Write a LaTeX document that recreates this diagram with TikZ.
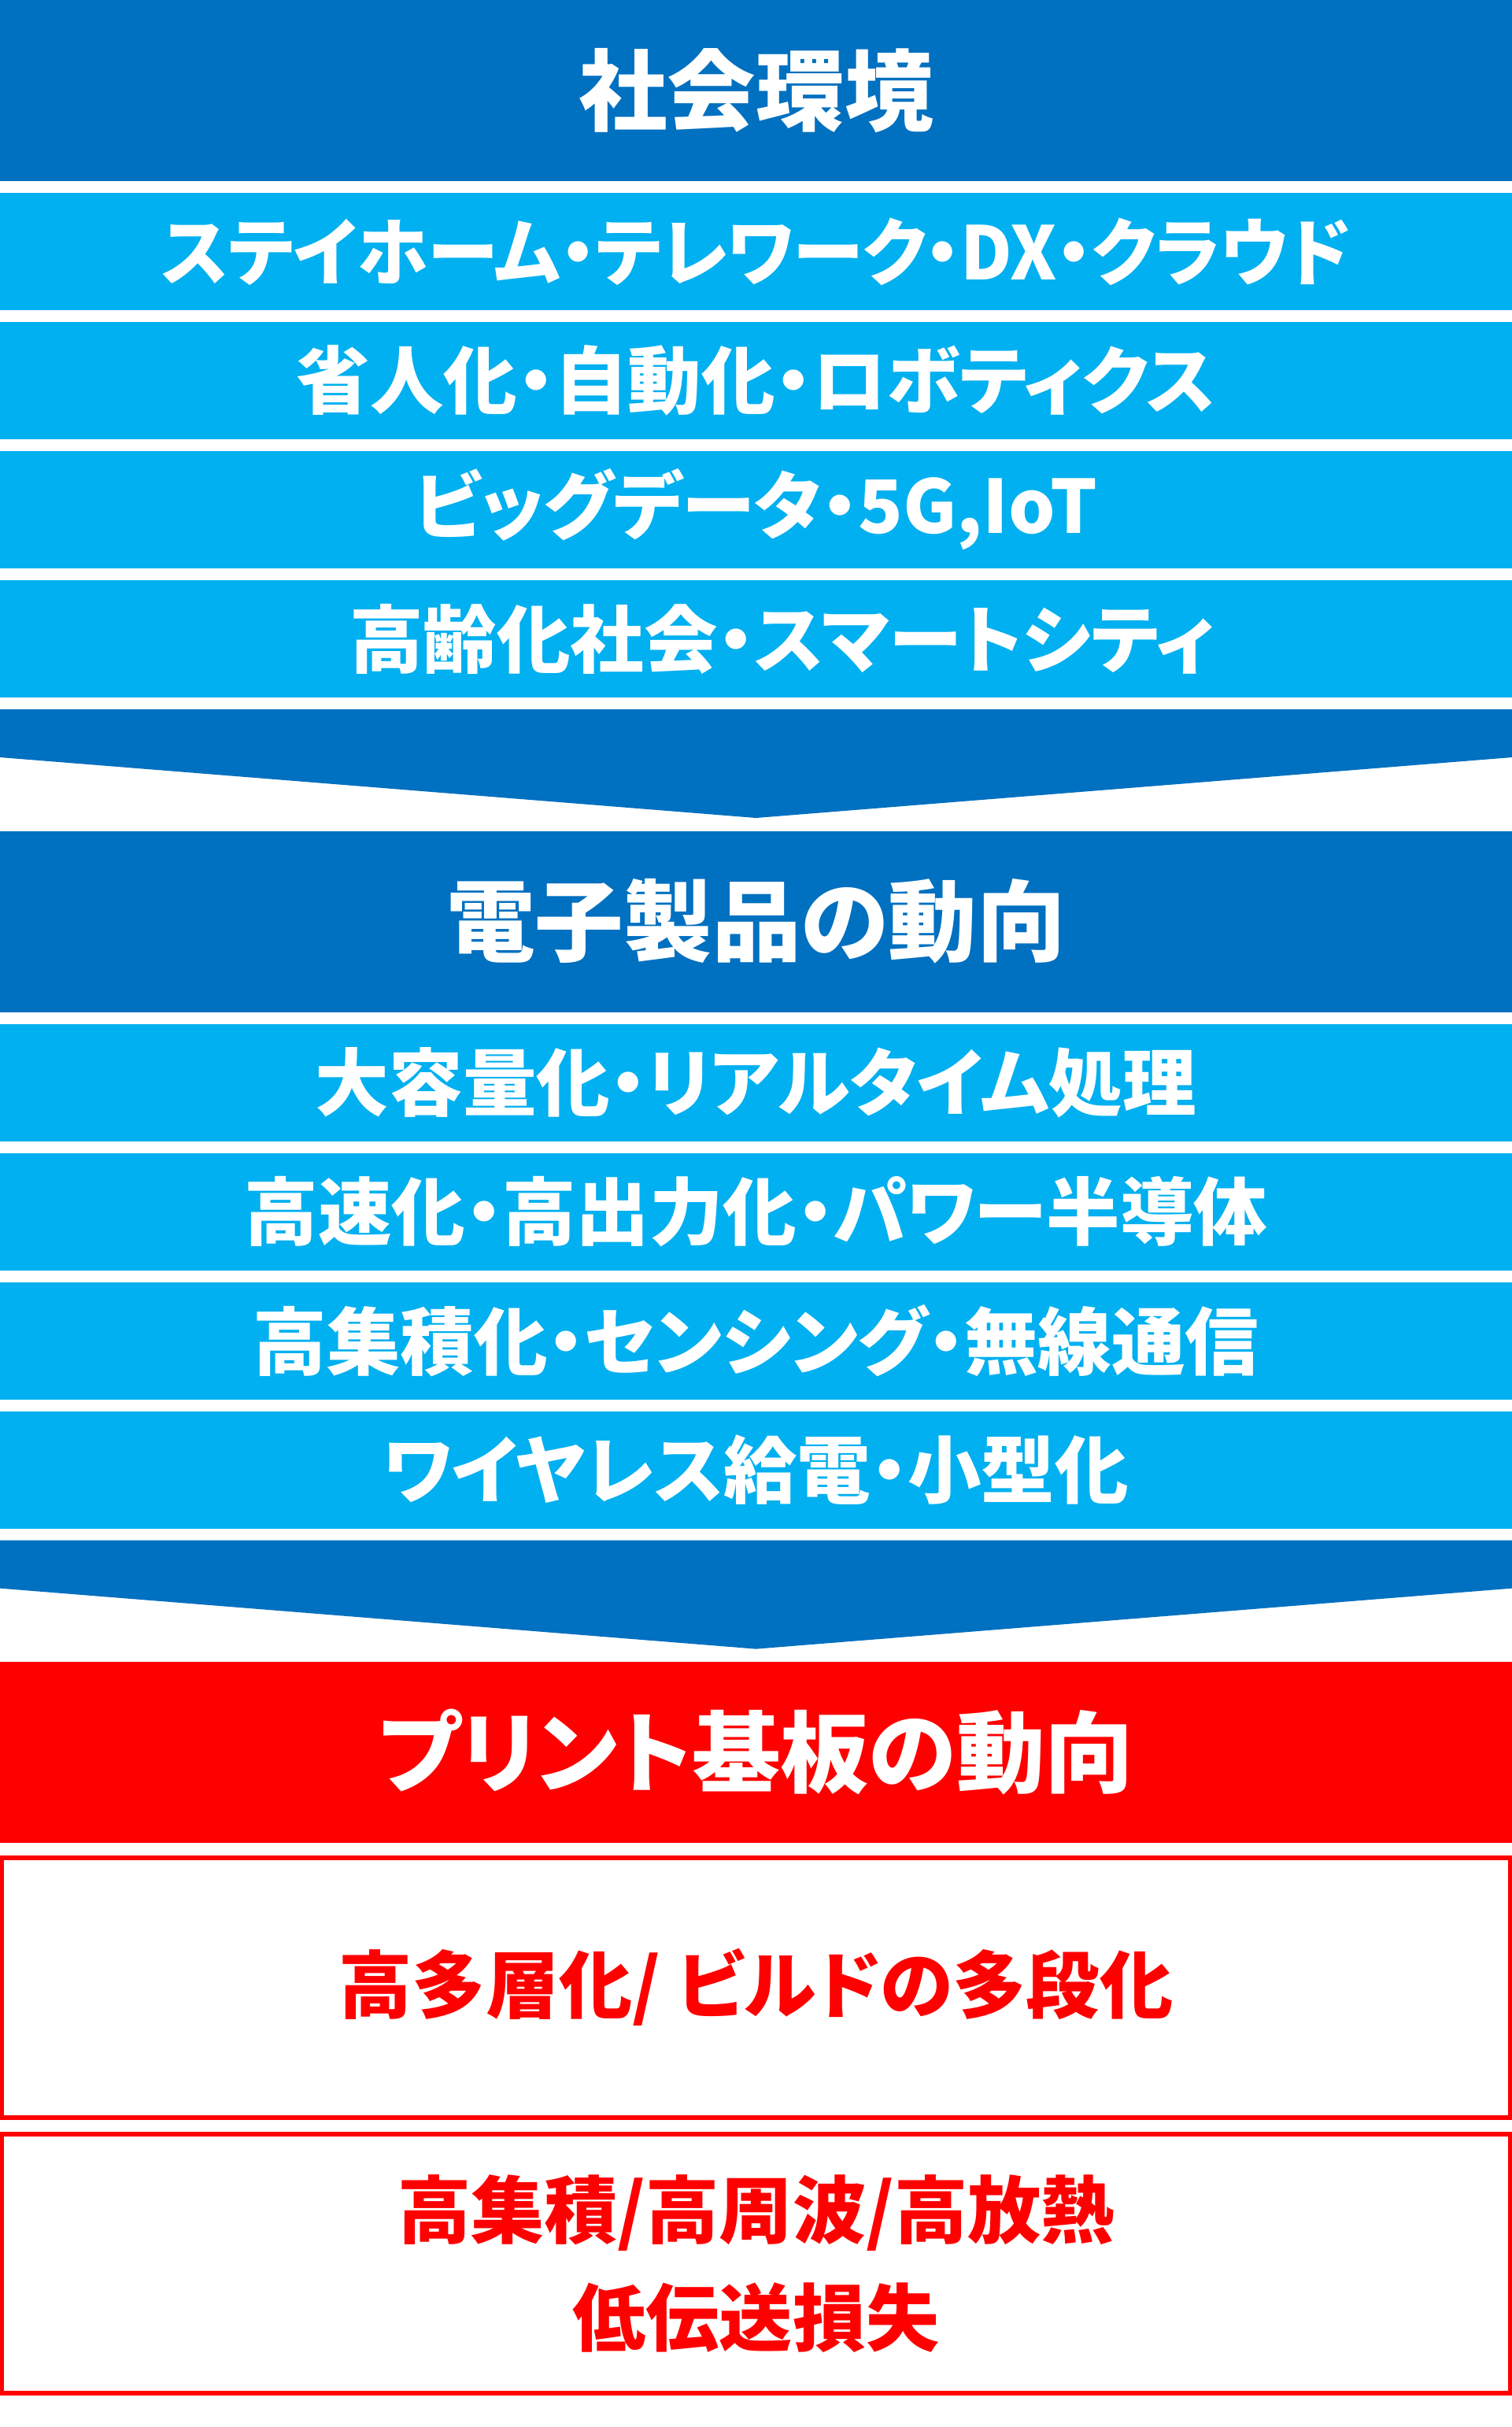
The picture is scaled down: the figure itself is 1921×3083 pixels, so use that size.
\documentclass[tikz,border=0pt]{standalone}
\usepackage{fontspec}
\newfontfamily\jpfont[RawFeature=+palt]{Noto Sans CJK JP}
\definecolor{deepblue}{HTML}{0070C0}
\definecolor{skyblue}{HTML}{00B0F0}
\definecolor{pcbred}{HTML}{FF0000}
\tikzset{every node/.style={inner sep=0pt, font=\jpfont\bfseries},
  headbar/.style={fill=deepblue, text=white, minimum width=19.21cm, minimum height=2.30cm,
    font=\jpfont\bfseries\fontsize{32}{38}\selectfont},
  itembar/.style={fill=skyblue, text=white, minimum width=19.21cm, minimum height=1.49cm,
    font=\jpfont\bfseries\fontsize{26.6}{32}\selectfont},
  trendbox/.style={draw=pcbred, line width=0.6mm, text=pcbred, align=center,
    minimum width=19.15cm, minimum height=3.30cm,
    font=\jpfont\bfseries\fontsize{26.5}{39}\selectfont}}

\begin{document}
\begin{tikzpicture}[x=0.01cm, y=-0.01cm]
   \useasboundingbox (0,0) rectangle (1921,3083);
   % social environment
   \begin{scope}
    \node[headbar] (envhead) at (960.5,115) {社会環境};
    \foreach \txt [count=\i] in {{\scalebox{0.965}[1]{ステイホーム・テレワーク・DX・クラウド}},
      省人化・自動化・ロボティクス, {ビッグデータ・5G,IoT\hspace{0.2em}}, {\hspace{0.7em}高齢化社会・スマートシティ}}
      \node[itembar] (env\i) at (960.5,{319.5+164*(\i-1)}) {\txt};
    \fill[deepblue] (0,901) -- (1921,901) -- (1921,962) -- (960.5,1039) -- (0,962) -- cycle;
   \end{scope}
   % electronic products
   \begin{scope}[yshift=-10.55cm]
    \node[headbar] (devhead) at (960.5,115) {電子製品の動向};
    \foreach \txt [count=\i] in {大容量化・リアルタイム処理, 高速化・高出力化・パワー半導体,
      高集積化・センシング・無線通信, ワイヤレス給電・小型化}
      \node[itembar] (dev\i) at (960.5,{319.5+164*(\i-1)}) {\txt};
    \fill[deepblue] (0,901) -- (1921,901) -- (1921,962) -- (960.5,1039) -- (0,962) -- cycle;
   \end{scope}
   % printed circuit boards
   \node[headbar, fill=pcbred] (pcbhead) at (960.5,2226) {プリント基板の動向};
   \node[trendbox] (pcb1) at (960.5,2524.7) {高多層化/ ビルドの多段化};
   \node[trendbox, minimum height=3.29cm] (pcb2) at (960.5,2875.3) {高集積/高周波/高放熱\\低伝送損失};
  \end{tikzpicture}
\end{document}
